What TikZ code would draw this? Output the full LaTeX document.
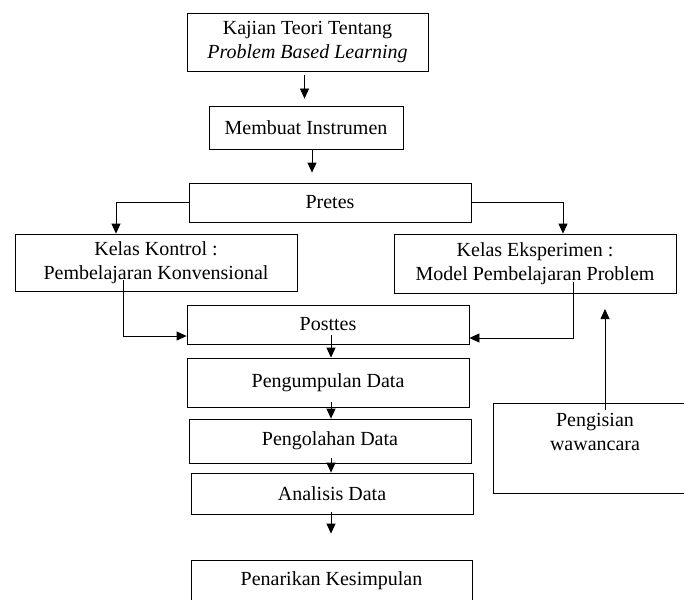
\documentclass[tikz,border=0pt]{standalone}
\usepackage{fontspec}
\setmainfont{Liberation Serif}
\usepackage{tikz}
\usetikzlibrary{arrows.meta,positioning,calc}

\begin{document}
\begin{tikzpicture}[x=1pt,y=-1pt,
    box/.style={draw,thick,rectangle,inner sep=0pt,align=center,font=\fontsize{20}{24}\selectfont},
    arr/.style={thick,-{Triangle[length=10pt,width=9pt]}}]
            \clip (0,0) rectangle (684,599);
            % main column
            \node[box,minimum width=241,minimum height=58] (kajian) at (307.5,42)
                {Kajian Teori Tentang\\\textit{Problem Based Learning}};
            \node[box,minimum width=194,minimum height=43] (instrumen) at (306,127.5) {Membuat Instrumen};
            \node[box,minimum width=282,minimum height=39] (pretes) at (330,202.5) {Pretes};
            \node[box,minimum width=282,minimum height=57] (kontrol) at (156,262.5)
                {Kelas Kontrol :\\Pembelajaran Konvensional};
            \node[box,minimum width=282,minimum height=59] (eksperimen) at (535,263.5)
                {Kelas Eksperimen :\\Model Pembelajaran Problem};
            \node[box,minimum width=282,minimum height=39] (posttes) at (328,324.5) {Posttes};
            \node[box,minimum width=282,minimum height=49] (kumpul) at (328,382.5) {Pengumpulan Data};
            \node[box,minimum width=282,minimum height=44] (olah) at (330,441) {Pengolahan Data};
            \node[box,minimum width=282,minimum height=41] (analisis) at (332,493.5) {Analisis Data};
            \node[box,minimum width=281,minimum height=42] (simpulan) at (331.5,581) {Penarikan Kesimpulan};
            % side box
            \node[box,minimum width=210,minimum height=90] (isi) at (598,448) {};
            \node[align=center,font=\fontsize{20}{24}\selectfont] (isitext) at (595,432)
                {Pengisian\\wawancara};
            \coordinate (eksin) at (605,309);
            % arrows
            \draw[arr,shorten <=4pt,shorten >=7pt] ([xshift=-3pt]kajian.south) -- ([xshift=-3pt]kajian.south |- instrumen.north);
            \draw[arr,shorten >=10pt] ([xshift=6pt]instrumen.south) -- ([xshift=6pt]instrumen.south |- pretes.north);
            \draw[arr] ([yshift=0.5pt]pretes.west) -| ([xshift=-40pt]kontrol.north);
            \draw[arr] ([yshift=0.5pt]pretes.east) -| ([xshift=28pt]eksperimen.north);
            \draw[arr] ([xshift=-33pt,yshift=-17.5pt]kontrol.center) |- ([yshift=-11.5pt]posttes.west);
            \draw[arr] ([xshift=38pt,yshift=-18.5pt]eksperimen.center) |- ([yshift=-13.5pt]posttes.east);
            \draw[arr] ([xshift=3pt,yshift=9pt]posttes.south) -- ([xshift=3pt]posttes.south |- kumpul.north);
            \draw[arr] ([xshift=3pt,yshift=5pt]kumpul.south) -- ([xshift=3pt]kumpul.south |- olah.north);
            \draw[arr] ([xshift=1pt,yshift=5pt]olah.south) -- ([xshift=1pt]olah.south |- analisis.north);
            \draw[arr,shorten >=26pt] ([xshift=-1pt,yshift=2pt]analisis.south) -- ([xshift=-1pt]analisis.south |- simpulan.north);
            \draw[arr] (isitext.north -| eksin) -- (eksin);
        \end{tikzpicture}
\end{document}
